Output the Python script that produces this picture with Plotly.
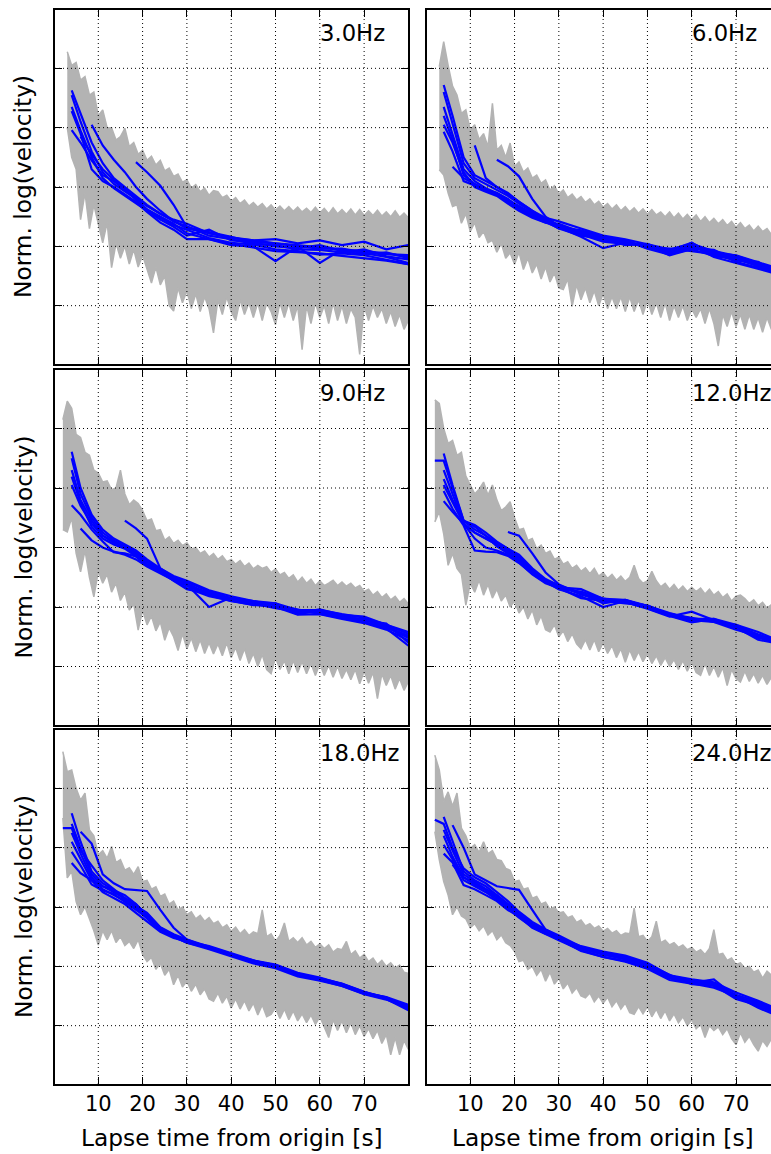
import plotly.graph_objects as go

# ---------------------------------------------------------------- data ----
FREQ_LABELS = ["3.0Hz", "6.0Hz", "9.0Hz", "12.0Hz", "18.0Hz", "24.0Hz"]

# first second of each observed envelope band (one sample per second up to 80 s)
GRAY_START = [3, 3, 2, 2, 2, 2]

UPPER_3HZ = [3.28, 3.05, 3.10, 2.80, 2.86, 2.55, 2.60, 2.20, 2.30, 2.00,
             2.00, 1.79, 1.85, 1.99, 1.68, 1.75, 1.55, 1.62, 1.45, 1.52,
             1.37, 1.45, 1.27, 1.32, 1.18, 1.22, 1.08, 1.12, 0.98, 1.04,
             0.92, 0.98, 0.86, 0.94, 0.92, 0.82, 0.86, 0.76, 0.82, 0.72,
             0.78, 0.68, 0.74, 0.66, 0.72, 0.63, 0.70, 0.61, 0.68, 0.60,
             0.67, 0.59, 0.66, 0.58, 0.64, 0.57, 0.66, 0.56, 0.64, 0.55,
             0.65, 0.55, 0.62, 0.54, 0.63, 0.53, 0.62, 0.52, 0.60, 0.52,
             0.61, 0.51, 0.58, 0.50, 0.60, 0.49, 0.56, 0.48]
LOWER_3HZ = [2.00, 1.50, 1.30, 0.45, 0.90, 0.30, 0.70, 0.40, 0.06, 0.40,
             -0.36, 0.05, -0.20, 0.00, -0.30, -0.05, -0.35, -0.15, -0.40, -0.62,
             -0.35, -0.65, -0.50, -1.00, -1.09, -0.70, -0.95, -0.75, -1.05, -0.80,
             -1.10, -0.85, -1.05, -1.46, -0.90, -1.15, -0.85, -1.10, -1.25, -0.90,
             -1.15, -0.95, -1.20, -0.95, -1.25, -0.95, -1.10, -1.32, -0.95, -1.20,
             -0.95, -1.25, -1.00, -1.74, -1.00, -1.30, -0.95, -1.20, -1.00, -1.30,
             -0.95, -1.25, -1.00, -1.30, -1.05, -1.20, -1.82, -1.00, -1.25, -1.00,
             -1.20, -1.05, -1.30, -1.10, -1.35, -1.15, -1.40, -1.25]

UPPER_6HZ = [3.03, 3.45, 3.05, 2.70, 2.55, 2.24, 2.30, 1.96, 2.05, 1.80,
             1.90, 1.68, 2.41, 1.62, 1.70, 1.50, 1.74, 1.35, 1.42, 1.25,
             1.32, 1.15, 1.20, 1.06, 1.12, 0.95, 1.02, 0.88, 0.95, 0.82,
             0.88, 0.78, 0.84, 0.74, 0.80, 0.70, 0.76, 0.66, 0.72, 0.63,
             0.70, 0.60, 0.67, 0.58, 0.65, 0.56, 0.63, 0.54, 0.62, 0.53,
             0.58, 0.50, 0.58, 0.48, 0.56, 0.46, 0.54, 0.45, 0.53, 0.42,
             0.50, 0.40, 0.47, 0.38, 0.45, 0.35, 0.42, 0.32, 0.40, 0.30,
             0.36, 0.26, 0.34, 0.25, 0.30, 0.20, 0.28, 0.18]
LOWER_6HZ = [1.29, 1.20, 0.90, 0.67, 0.70, 0.39, 0.55, 0.25, 0.40, 0.15,
             0.25, 0.06, 0.10, -0.10, 0.05, -0.20, -0.11, -0.30, -0.10, -0.39,
             -0.20, -0.45, -0.30, -0.55, -0.35, -0.60, -0.45, -0.70, -0.73, -0.55,
             -1.01, -0.65, -0.90, -0.70, -0.95, -0.75, -1.00, -0.80, -1.05, -0.85,
             -1.05, -0.85, -1.10, -0.85, -1.10, -0.90, -1.15, -0.90, -1.15, -0.95,
             -1.20, -0.95, -1.25, -1.00, -1.20, -1.00, -1.25, -1.05, -1.20, -1.05,
             -1.30, -1.05, -1.30, -1.68, -1.15, -1.35, -1.10, -1.35, -1.15, -1.40,
             -1.15, -1.40, -1.20, -1.45, -1.20, -1.40, -1.25, -1.40]

UPPER_9HZ = [3.15, 3.46, 3.34, 2.90, 2.85, 2.60, 2.55, 2.30, 2.25, 2.10,
             2.12, 1.97, 2.00, 2.30, 1.90, 1.72, 1.80, 1.74, 1.62, 1.45,
             1.48, 1.28, 1.30, 1.12, 1.18, 1.07, 1.12, 1.03, 1.08, 0.97,
             1.00, 0.90, 0.94, 0.84, 0.90, 0.80, 0.86, 0.76, 0.80, 0.72,
             0.78, 0.68, 0.74, 0.64, 0.70, 0.65, 0.68, 0.58, 0.64, 0.54,
             0.58, 0.48, 0.54, 0.42, 0.50, 0.40, 0.47, 0.36, 0.44, 0.36,
             0.40, 0.45, 0.36, 0.42, 0.35, 0.40, 0.32, 0.36, 0.26, 0.30,
             0.20, 0.26, 0.16, 0.22, 0.12, 0.18, 0.08, 0.14, 0.05]
LOWER_9HZ = [1.30, 1.26, 1.50, 0.90, 0.59, 0.95, 0.50, 0.17, 0.60, 0.40,
             0.55, 0.25, 0.40, 0.11, 0.25, -0.05, 0.05, -0.39, -0.05, -0.30,
             -0.15, -0.40, -0.25, -0.56, -0.35, -0.50, -0.73, -0.45, -0.70, -0.52,
             -0.75, -0.55, -0.78, -0.60, -0.79, -0.62, -0.82, -0.60, -0.85, -0.68,
             -0.90, -0.70, -0.95, -0.78, -1.00, -0.80, -1.05, -1.12, -0.85, -1.05,
             -0.90, -1.12, -0.90, -1.10, -0.92, -1.12, -0.95, -1.15, -0.95, -1.15,
             -0.98, -1.18, -1.00, -1.20, -1.05, -1.22, -1.05, -1.29, -1.08, -1.28,
             -1.10, -1.54, -1.12, -1.32, -1.15, -1.38, -1.20, -1.40, -1.25]

UPPER_12HZ = [3.48, 3.42, 3.00, 2.75, 2.80, 2.55, 2.60, 2.20, 2.05, 1.90,
              1.98, 2.10, 1.88, 2.05, 1.80, 1.62, 1.68, 1.77, 1.50, 1.30,
              1.32, 1.12, 1.15, 0.98, 1.04, 0.90, 0.94, 0.80, 0.84, 0.72,
              0.76, 0.65, 0.70, 0.60, 0.66, 0.56, 0.65, 0.52, 0.58, 0.48,
              0.55, 0.45, 0.52, 0.43, 0.50, 0.70, 0.48, 0.40, 0.44, 0.60,
              0.44, 0.34, 0.40, 0.30, 0.38, 0.28, 0.35, 0.26, 0.33, 0.26,
              0.32, 0.22, 0.30, 0.20, 0.26, 0.16, 0.22, 0.10, 0.18, 0.20,
              0.14, 0.06, 0.12, 0.02, 0.08, -0.02, 0.04, -0.04, 0.00]
LOWER_12HZ = [1.43, 1.60, 1.23, 0.70, 0.90, 0.65, 0.55, 0.03, 0.40, 0.25,
              0.45, 0.20, 0.38, 0.15, 0.30, 0.10, 0.20, 0.00, 0.10, -0.10,
              0.00, -0.20, -0.05, -0.30, -0.15, -0.38, -0.42, -0.30, -0.50, -0.40,
              -0.58, -0.45, -0.62, -0.70, -0.55, -0.72, -0.55, -0.75, -0.60, -0.78,
              -0.65, -0.85, -0.70, -0.93, -0.72, -0.90, -0.75, -0.92, -0.78, -0.95,
              -0.82, -0.98, -0.85, -1.00, -0.88, -1.05, -0.90, -1.08, -0.92, -1.10,
              -1.15, -0.95, -1.15, -1.00, -1.18, -1.02, -1.32, -1.05, -1.20, -1.26,
              -1.08, -1.25, -1.12, -1.28, -1.15, -1.30, -1.18, -1.30, -1.20]

UPPER_18HZ = [3.62, 3.28, 3.31, 3.00, 2.80, 2.92, 2.30, 2.20, 1.88, 1.95,
              1.82, 2.02, 1.75, 1.80, 1.62, 1.66, 1.55, 1.68, 1.43, 1.45,
              1.30, 1.34, 1.18, 1.22, 1.05, 1.10, 0.95, 1.00, 0.87, 0.92,
              0.80, 0.86, 0.76, 0.82, 0.72, 0.76, 0.65, 0.70, 0.59, 0.66,
              0.55, 0.62, 0.52, 0.58, 0.55, 0.95, 0.50, 0.55, 0.42, 0.52,
              0.73, 0.42, 0.48, 0.40, 0.48, 0.36, 0.42, 0.32, 0.38, 0.30,
              0.36, 0.24, 0.30, 0.28, 0.42, 0.20, 0.26, 0.14, 0.20, 0.08,
              0.14, 0.03, 0.10, 0.00, 0.06, -0.03, 0.02, -0.10, -0.12]
LOWER_18HZ = [2.50, 1.49, 1.60, 1.09, 0.87, 1.00, 0.80, 0.60, 0.36, 0.60,
              0.45, 0.60, 0.40, 0.50, 0.35, 0.42, 0.30, 0.45, 0.20, 0.08,
              0.15, -0.05, 0.05, -0.15, -0.05, -0.31, -0.15, -0.35, -0.25, -0.42,
              -0.30, -0.48, -0.38, -0.55, -0.59, -0.45, -0.62, -0.50, -0.70, -0.55,
              -0.72, -0.58, -0.75, -0.62, -0.82, -0.65, -0.85, -0.81, -0.70, -0.88,
              -0.72, -0.90, -0.75, -0.92, -0.80, -0.95, -0.82, -0.98, -0.85, -1.02,
              -1.20, -0.90, -1.08, -0.92, -1.12, -0.95, -1.15, -1.00, -1.18, -1.05,
              -1.22, -1.08, -1.30, -1.15, -1.49, -1.20, -1.49, -1.25, -1.40]

UPPER_24HZ = [3.56, 3.31, 2.78, 2.94, 2.70, 2.92, 2.33, 2.20, 1.99, 2.05,
              1.92, 2.10, 1.90, 1.95, 1.80, 1.78, 1.65, 1.62, 1.43, 1.45,
              1.30, 1.32, 1.15, 1.18, 1.05, 1.08, 0.96, 1.00, 0.90, 0.92,
              0.82, 0.85, 0.74, 0.78, 0.68, 0.72, 0.64, 0.68, 0.59, 0.64,
              0.56, 0.60, 0.52, 0.56, 0.55, 0.98, 0.50, 0.52, 0.42, 0.50,
              0.76, 0.40, 0.44, 0.36, 0.40, 0.32, 0.36, 0.28, 0.32, 0.24,
              0.28, 0.20, 0.30, 0.62, 0.20, 0.22, 0.10, 0.14, 0.03, 0.06,
              -0.03, 0.00, -0.10, -0.06, -0.20, -0.08, -0.15, -0.12, -0.20]
LOWER_24HZ = [2.27, 1.80, 1.43, 1.20, 0.87, 1.00, 0.85, 0.80, 0.65, 0.72,
              0.60, 0.68, 0.53, 0.60, 0.45, 0.53, 0.40, 0.35, 0.25, 0.08,
              0.10, -0.05, 0.00, -0.15, -0.05, -0.25, -0.10, -0.30, -0.20, -0.38,
              -0.28, -0.45, -0.36, -0.50, -0.53, -0.45, -0.60, -0.50, -0.62, -0.52,
              -0.68, -0.58, -0.72, -0.62, -0.78, -0.81, -0.68, -0.80, -0.68, -0.85,
              -0.72, -0.88, -0.75, -0.92, -0.80, -0.95, -0.85, -1.00, -0.90, -1.05,
              -0.98, -1.20, -1.00, -1.08, -1.02, -1.15, -1.05, -1.22, -1.32, -1.12,
              -1.28, -1.18, -1.32, -1.43, -1.25, -1.35, -1.22, -1.38, -1.30]

UPPERS = [UPPER_3HZ, UPPER_6HZ, UPPER_9HZ, UPPER_12HZ, UPPER_18HZ, UPPER_24HZ]
LOWERS = [LOWER_3HZ, LOWER_6HZ, LOWER_9HZ, LOWER_12HZ, LOWER_18HZ, LOWER_24HZ]

# smoothed station curves, sampled at these lapse times [s]
T_FIT = [2, 4, 6, 8.5, 11, 13.5, 16, 18.5, 21, 24, 27, 30, 35, 40, 45, 50, 55, 60, 65, 70, 75, 80]
_ = None

FIT_3HZ = [
    [_, 2.63, 2.25, 1.75, 1.40, 1.15, 1.00, 0.85, 0.70, 0.55, 0.42, 0.30, 0.22, 0.14, 0.10, 0.05, 0.02, -0.02, -0.06, -0.08, -0.12, -0.18],
    [_, 2.55, 2.10, 1.60, 1.25, 1.05, 0.92, 0.80, 0.62, 0.50, 0.38, 0.22, 0.12, 0.04, -0.02, -0.08, -0.10, -0.12, -0.16, -0.20, -0.24, -0.30],
    [_, 2.35, 1.95, 1.50, 1.15, 0.98, 0.85, 0.72, 0.60, 0.45, 0.33, 0.18, 0.28, 0.10, 0.08, 0.05, 0.00, -0.04, -0.04, -0.10, -0.13, -0.15],
    [_, 2.28, 1.90, 1.30, 1.10, 1.00, 0.88, 0.75, 0.58, 0.40, 0.28, 0.12, 0.12, 0.02, 0.00, -0.25, 0.00, -0.28, -0.05, -0.12, -0.18, -0.28],
    [_, 1.96, 1.75, 1.45, 1.20, 1.10, 0.95, 0.82, 0.68, 0.55, 0.45, 0.38, 0.22, 0.15, 0.10, 0.12, 0.05, 0.10, 0.02, 0.08, -0.05, 0.02],
    [_, _, 1.85, 1.55, 1.30, 1.12, 0.98, 0.78, 0.62, 0.48, 0.36, 0.28, 0.14, 0.06, 0.03, -0.05, -0.08, -0.14, -0.12, -0.15, -0.22, -0.30],
    [_, _, _, 2.05, 1.70, 1.46, 1.25, 1.00, 0.80, 0.60, 0.42, 0.34, 0.18, 0.12, 0.04, 0.02, -0.05, -0.06, -0.10, -0.05, -0.17, -0.22],
    [_, _, _, _, _, _, _, 1.42, 1.25, 1.02, 0.70, 0.32, 0.24, 0.16, 0.06, 0.00, -0.03, 0.02, -0.08, -0.14, -0.10, -0.20],
]
FIT_6HZ = [
    [_, 2.72, 2.20, 1.50, 1.20, 1.10, 1.00, 0.88, 0.75, 0.60, 0.48, 0.42, 0.30, 0.18, 0.12, 0.04, -0.05, 0.04, -0.08, -0.16, -0.28, -0.40],
    [_, 2.60, 2.05, 1.40, 1.15, 1.05, 0.95, 0.85, 0.72, 0.58, 0.46, 0.35, 0.22, 0.10, 0.05, 0.02, -0.12, 0.06, -0.16, -0.20, -0.34, -0.45],
    [_, 2.35, 1.90, 1.30, 1.10, 0.98, 0.90, 0.80, 0.65, 0.52, 0.42, 0.30, 0.26, 0.16, 0.10, -0.04, -0.14, -0.04, -0.06, -0.24, -0.26, -0.50],
    [_, 2.20, 1.80, 1.20, 1.05, 0.95, 0.88, 0.75, 0.62, 0.50, 0.40, 0.32, 0.16, -0.03, 0.06, 0.00, -0.08, 0.02, -0.18, -0.28, -0.38, -0.48],
    [_, 2.05, 1.75, 1.25, 1.00, 0.92, 0.85, 0.72, 0.60, 0.48, 0.40, 0.38, 0.24, 0.12, 0.08, -0.02, -0.04, -0.08, -0.13, -0.18, -0.30, -0.42],
    [_, 1.93, 1.60, 1.10, 1.02, 0.95, 0.90, 0.78, 0.68, 0.55, 0.43, 0.30, 0.18, 0.13, 0.02, 0.04, -0.10, -0.02, -0.10, -0.26, -0.36, -0.46],
    [_, _, 1.34, 1.15, 1.05, 0.95, 0.88, 0.78, 0.66, 0.55, 0.44, 0.36, 0.22, 0.14, 0.10, -0.03, -0.07, 0.06, -0.14, -0.22, -0.32, -0.44],
    [_, _, _, _, _, _, 1.46, 1.35, 1.18, 0.80, 0.50, 0.34, 0.20, 0.08, 0.04, 0.02, -0.12, 0.00, -0.11, -0.15, -0.27, -0.38],
    [_, _, _, _, 1.70, 1.15, 1.00, 0.90, 0.75, 0.60, 0.45, 0.33, 0.27, 0.17, 0.08, 0.01, -0.15, -0.05, -0.16, -0.22, -0.30, -0.44],
]
FIT_9HZ = [
    [_, 2.61, 2.00, 1.55, 1.30, 1.15, 1.05, 0.95, 0.80, 0.65, 0.52, 0.44, 0.28, 0.18, 0.10, 0.06, -0.05, -0.05, -0.12, -0.18, -0.30, -0.45],
    [_, 2.50, 1.90, 1.50, 1.25, 1.12, 1.02, 0.92, 0.78, 0.62, 0.50, 0.36, 0.20, 0.10, 0.04, 0.00, -0.13, -0.12, -0.20, -0.27, -0.38, -0.56],
    [_, 2.30, 1.80, 1.45, 1.20, 1.08, 1.00, 0.88, 0.72, 0.60, 0.46, 0.38, 0.00, 0.16, 0.08, 0.06, -0.10, -0.04, -0.13, -0.16, -0.30, -0.42],
    [_, 2.19, 1.75, 1.35, 1.15, 1.05, 0.98, 0.85, 0.70, 0.58, 0.45, 0.32, 0.18, 0.11, 0.03, 0.03, -0.04, -0.12, -0.19, -0.26, -0.36, -0.65],
    [_, 2.05, 1.70, 1.40, 1.20, 1.10, 1.00, 0.90, 0.75, 0.62, 0.48, 0.42, 0.26, 0.15, 0.10, 0.02, -0.12, -0.06, -0.18, -0.20, -0.34, -0.48],
    [_, 1.71, 1.55, 1.30, 1.10, 0.92, 0.90, 0.85, 0.70, 0.60, 0.44, 0.30, 0.22, 0.13, 0.06, -0.02, -0.08, -0.09, -0.15, -0.23, -0.28, -0.60],
    [_, _, 1.32, 1.12, 1.00, 0.93, 0.88, 0.80, 0.68, 0.56, 0.45, 0.36, 0.24, 0.12, 0.05, 0.05, -0.10, -0.07, -0.17, -0.25, -0.34, -0.52],
    [_, _, _, _, _, _, 1.45, 1.32, 1.15, 0.65, 0.50, 0.40, 0.22, 0.14, 0.08, 0.02, -0.06, -0.10, -0.14, -0.22, -0.32, -0.50],
]
FIT_12HZ = [
    [2.46, 2.46, 2.00, 1.45, 1.30, 1.20, 1.08, 0.98, 0.85, 0.62, 0.45, 0.35, 0.22, 0.12, 0.10, 0.02, -0.10, -0.20, -0.20, -0.30, -0.42, -0.58],
    [_, 2.58, 2.05, 1.45, 1.38, 1.25, 1.10, 0.98, 0.88, 0.65, 0.47, 0.36, 0.24, 0.06, 0.12, 0.00, -0.12, -0.18, -0.25, -0.30, -0.48, -0.62],
    [_, 2.30, 1.90, 1.40, 1.25, 1.15, 1.05, 0.92, 0.80, 0.60, 0.44, 0.30, 0.26, 0.14, 0.08, -0.03, -0.16, -0.08, -0.22, -0.36, -0.52, -0.60],
    [_, 2.15, 1.80, 1.45, 1.35, 1.20, 1.02, 0.90, 0.78, 0.58, 0.42, 0.30, 0.18, 0.00, 0.10, -0.02, -0.15, -0.26, -0.20, -0.34, -0.55, -0.62],
    [_, 2.05, 1.75, 1.40, 1.15, 1.00, 0.95, 0.88, 0.75, 0.55, 0.40, 0.32, 0.15, 0.10, 0.06, 0.03, -0.13, -0.22, -0.25, -0.38, -0.48, -0.64],
    [_, 1.95, 1.65, 1.37, 0.95, 0.93, 0.92, 0.86, 0.74, 0.56, 0.41, 0.33, 0.30, 0.14, 0.11, 0.01, -0.14, -0.24, -0.22, -0.32, -0.46, -0.58],
    [_, 1.78, 1.60, 1.40, 1.25, 1.15, 1.05, 0.95, 0.82, 0.60, 0.45, 0.37, 0.21, 0.10, 0.08, -0.02, -0.11, -0.20, -0.24, -0.35, -0.50, -0.61],
    [_, _, _, _, _, _, _, 1.26, 1.20, 0.90, 0.58, 0.38, 0.22, 0.13, 0.12, 0.02, -0.14, -0.21, -0.23, -0.33, -0.50, -0.60],
]
FIT_18HZ = [
    [2.33, 2.33, 1.95, 1.70, 1.45, 1.30, 1.15, 1.02, 0.90, 0.66, 0.54, 0.45, 0.33, 0.21, 0.09, 0.02, -0.12, -0.20, -0.29, -0.43, -0.53, -0.68],
    [_, 2.58, 2.10, 1.60, 1.40, 1.28, 1.12, 1.00, 0.88, 0.65, 0.52, 0.42, 0.30, 0.20, 0.09, 0.01, -0.13, -0.21, -0.30, -0.44, -0.52, -0.72],
    [_, 2.40, 2.00, 1.55, 1.35, 1.25, 1.15, 1.05, 0.85, 0.62, 0.50, 0.40, 0.29, 0.17, 0.05, -0.03, -0.17, -0.24, -0.33, -0.47, -0.56, -0.70],
    [_, 2.25, 1.90, 1.50, 1.30, 1.20, 1.10, 0.98, 0.80, 0.60, 0.50, 0.40, 0.31, 0.19, 0.10, 0.01, -0.14, -0.22, -0.30, -0.43, -0.55, -0.74],
    [_, 2.10, 1.80, 1.45, 1.25, 1.15, 1.05, 0.90, 0.76, 0.58, 0.48, 0.42, 0.34, 0.22, 0.10, 0.03, -0.11, -0.19, -0.30, -0.45, -0.52, -0.65],
    [_, 1.93, 1.70, 1.38, 1.28, 1.22, 1.08, 0.95, 0.82, 0.62, 0.51, 0.43, 0.30, 0.19, 0.07, -0.01, -0.15, -0.23, -0.33, -0.46, -0.55, -0.70],
    [_, 1.74, 1.57, 1.45, 1.35, 1.28, 1.20, 1.05, 0.85, 0.64, 0.52, 0.42, 0.32, 0.20, 0.08, 0.00, -0.15, -0.21, -0.31, -0.46, -0.53, -0.68],
    [_, _, 2.27, 2.07, 1.55, 1.40, 1.30, 1.29, 1.27, 0.95, 0.65, 0.45, 0.31, 0.19, 0.08, 0.01, -0.13, -0.22, -0.31, -0.44, -0.54, -0.71],
]
FIT_24HZ = [
    [2.47, 2.40, 2.00, 1.65, 1.50, 1.40, 1.25, 1.10, 0.92, 0.75, 0.62, 0.52, 0.33, 0.23, 0.15, 0.04, -0.16, -0.23, -0.28, -0.48, -0.60, -0.76],
    [_, 2.52, 2.10, 1.60, 1.45, 1.35, 1.20, 1.05, 0.90, 0.72, 0.60, 0.50, 0.30, 0.20, 0.12, 0.00, -0.20, -0.28, -0.22, -0.52, -0.64, -0.80],
    [_, 2.30, 1.95, 1.55, 1.42, 1.30, 1.18, 1.02, 0.88, 0.70, 0.58, 0.46, 0.26, 0.16, 0.08, -0.04, -0.23, -0.29, -0.36, -0.50, -0.70, -0.85],
    [_, 2.20, 1.85, 1.50, 1.38, 1.28, 1.15, 1.00, 0.85, 0.68, 0.56, 0.45, 0.31, 0.21, 0.16, 0.03, -0.14, -0.30, -0.32, -0.55, -0.66, -0.82],
    [_, 2.05, 1.80, 1.45, 1.35, 1.25, 1.12, 0.98, 0.82, 0.66, 0.55, 0.48, 0.34, 0.25, 0.18, 0.06, -0.15, -0.22, -0.27, -0.44, -0.58, -0.74],
    [_, 1.90, 1.75, 1.37, 1.30, 1.20, 1.10, 0.95, 0.84, 0.65, 0.54, 0.44, 0.27, 0.16, 0.09, -0.03, -0.19, -0.27, -0.33, -0.50, -0.68, -0.80],
    [_, _, 1.71, 1.50, 1.40, 1.30, 1.20, 1.05, 0.90, 0.70, 0.58, 0.48, 0.31, 0.21, 0.13, 0.01, -0.17, -0.25, -0.31, -0.52, -0.62, -0.78],
    [_, _, 2.38, 2.00, 1.55, 1.45, 1.35, 1.32, 1.29, 0.95, 0.62, 0.50, 0.30, 0.20, 0.12, 0.00, -0.20, -0.27, -0.30, -0.50, -0.65, -0.80],
]
FITS = [FIT_3HZ, FIT_6HZ, FIT_9HZ, FIT_12HZ, FIT_18HZ, FIT_24HZ]

X_TICKS = [10, 20, 30, 40, 50, 60, 70]
Y_GRID = [-1, 0, 1, 2, 3]
Y_RANGE = [-1.983, 3.983]
X_RANGES = [[0.23, 79.9], [0.23, 77.9]]

for up, lo, t0 in zip(UPPERS, LOWERS, GRAY_START):
    assert len(up) == len(lo) == 81 - t0
for fits in FITS:
    for curve in fits:
        assert len(curve) == len(T_FIT)

# -------------------------------------------------------------- layout ----
W, H = 771, 1154
# inner plot areas; the 2 px frame lines sit just outside these
COL_PX = [(55, 408), (427, 771)]
ROW_PX = [(10, 364), (370, 725), (730, 1084)]
FONT = "DejaVu Sans"
GRAY = "#b3b3b3"
BLUE = "#0000ff"

fig = go.Figure()
layout = dict(
    width=W, height=H, margin=dict(l=0, r=0, t=0, b=0),
    paper_bgcolor="white", plot_bgcolor="white", showlegend=False,
    font=dict(family=FONT, color="black", size=21),
)
shapes, annotations = [], []

for k in range(6):
    row, col = divmod(k, 2)
    sfx = "" if k == 0 else str(k + 1)
    xn, yn = f"x{sfx}", f"y{sfx}"
    t0 = GRAY_START[k]
    tt = list(range(t0, 81))

    # observed envelope band
    fig.add_trace(go.Scatter(
        x=tt + tt[::-1], y=UPPERS[k] + LOWERS[k][::-1],
        xaxis=xn, yaxis=yn, mode="lines", fill="toself",
        fillcolor=GRAY, line=dict(color=GRAY, width=1.5), hoverinfo="skip",
    ))
    # smoothed curves
    for curve in FITS[k]:
        fig.add_trace(go.Scatter(
            x=T_FIT, y=curve, xaxis=xn, yaxis=yn, mode="lines",
            line=dict(color=BLUE, width=2.2), connectgaps=False,
        ))

    x0, x1 = COL_PX[col]
    y0, y1 = ROW_PX[row]
    bottom = row == 2
    layout[f"xaxis{sfx}"] = dict(
        domain=[x0 / W, x1 / W], range=X_RANGES[col], anchor=yn,
        tickvals=X_TICKS, ticks="inside", ticklen=7, tickwidth=1, tickcolor="black",
        showticklabels=bottom, tickfont=dict(size=21, family=FONT),
        showline=True, linewidth=2, linecolor="black", mirror="ticks",
        showgrid=False, zeroline=False, layer="above traces",
    )
    layout[f"yaxis{sfx}"] = dict(
        domain=[1 - y1 / H, 1 - y0 / H], range=Y_RANGE, anchor=xn,
        tickvals=Y_GRID, ticks="inside", ticklen=7, tickwidth=1, tickcolor="black",
        showticklabels=False, showline=True, linewidth=2, linecolor="black",
        mirror="ticks" if col == 0 else False,
        showgrid=False, zeroline=False, layer="above traces",
    )

    # dotted grid drawn over the data
    for xt in X_TICKS:
        shapes.append(dict(type="line", xref=xn, yref=f"{yn} domain",
                           x0=xt, x1=xt, y0=0, y1=1, layer="above",
                           line=dict(color="black", width=1, dash="1px,3px")))
    for yt in Y_GRID:
        shapes.append(dict(type="line", xref=f"{xn} domain", yref=yn,
                           x0=0, x1=1, y0=yt, y1=yt, layer="above",
                           line=dict(color="black", width=1, dash="1px,3px")))

    annotations.append(dict(
        text=FREQ_LABELS[k], xref=xn, yref=yn, x=59.6, y=3.6,
        xanchor="left", yanchor="middle", showarrow=False,
        font=dict(size=22.7, family=FONT),
    ))

for row in range(3):
    y0, y1 = ROW_PX[row]
    annotations.append(dict(
        text="Norm. log(velocity)", xref="paper", yref="paper",
        x=23 / W, y=1 - (y0 + y1) / 2 / H, xanchor="center", yanchor="middle",
        textangle=-90, showarrow=False, font=dict(size=23.3, family=FONT),
    ))
for col, cx in enumerate([231.5, 603]):
    annotations.append(dict(
        text="Lapse time from origin [s]", xref="paper", yref="paper",
        x=cx / W, y=1 - 1137 / H, xanchor="center", yanchor="middle",
        showarrow=False, font=dict(size=23.3, family=FONT),
    ))

layout["shapes"] = shapes
layout["annotations"] = annotations
fig.update_layout(**layout)
fig.write_html("out.html")
